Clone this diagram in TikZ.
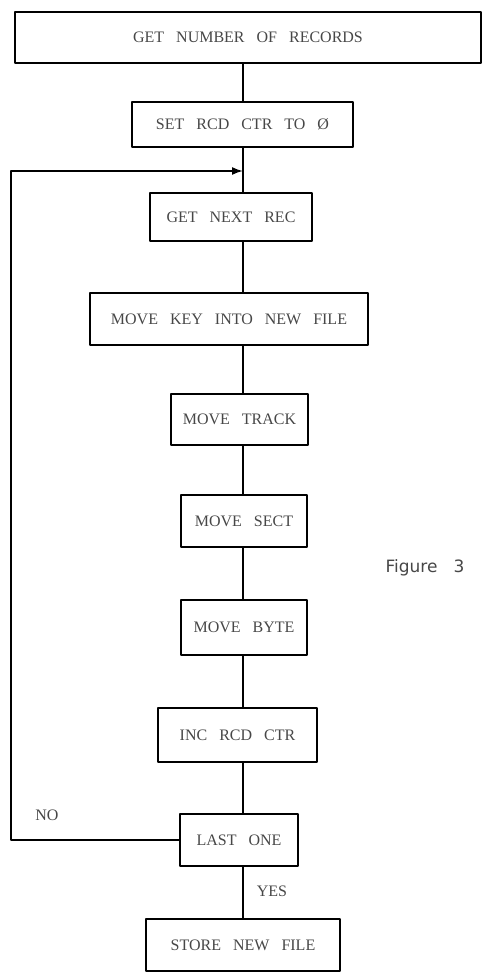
\documentclass[tikz,border=0pt]{standalone}
\usepackage{fontspec}
\setmainfont[WordSpace=3]{Liberation Serif}
\newfontfamily\figfont[WordSpace=3]{DejaVu Sans}
\usetikzlibrary{arrows.meta}
\tikzset{
  box/.style={draw, line width=1.7pt, inner sep=0pt, text=black!72},
  lbl/.style={text=black!72, inner sep=0pt}
}
\begin{document}
\begin{tikzpicture}[x=1pt,y=-1pt,>={Latex[length=11pt,width=8pt]},line join=round,line cap=round,font=\fontsize{16}{18}\selectfont]
 \useasboundingbox (0,0) rectangle (482,973);
 \def\sx{243} % ligne verticale
 \coordinate (sp) at (\sx,0);
 \node[box,minimum width=466,minimum height=51] (n1) at (248,37.5) {GET NUMBER OF RECORDS};
 \node[box,minimum width=221,minimum height=45] (n2) at (242.5,124.5) {SET RCD CTR TO Ø};
 \node[box,minimum width=162,minimum height=48] (n3) at (231,217) {GET NEXT REC};
 \node[box,minimum width=278,minimum height=52] (n4) at (229,319) {MOVE KEY INTO NEW FILE};
 \node[box,minimum width=137,minimum height=51] (n5) at (239.5,419.5) {MOVE TRACK};
 \node[box,minimum width=126,minimum height=52] (n6) at (244,521) {MOVE SECT};
 \node[box,minimum width=126,minimum height=55] (n7) at (244,627.5) {MOVE BYTE};
 \node[box,minimum width=159,minimum height=54] (n8) at (237.5,735) {INC RCD CTR};
 \node[box,minimum width=118,minimum height=52] (n9) at (239,840) {LAST ONE};
 \node[box,minimum width=194,minimum height=52] (n10) at (243,945) {STORE NEW FILE};
 \node[lbl] (no) at (47,815) {NO};
 \node[lbl] (yes) at (272,891) {YES};
 \node[lbl,font=\figfont\fontsize{17}{19}\selectfont] (fig) at (425,568) {Figure 3};
 \coordinate (back) at (\sx,171);
 \coordinate (lp) at (11,171);
 \foreach \a/\b in {n1/n2,n2/n3,n3/n4,n4/n5,n5/n6,n6/n7,n7/n8,n8/n9,n9/n10}
   \draw[line width=1.7pt] (\a.south -| sp) -- (\b.north -| sp);
 \draw[line width=1.7pt,->] (n9.west) -| (lp) -- (back);
\end{tikzpicture}
\end{document}
